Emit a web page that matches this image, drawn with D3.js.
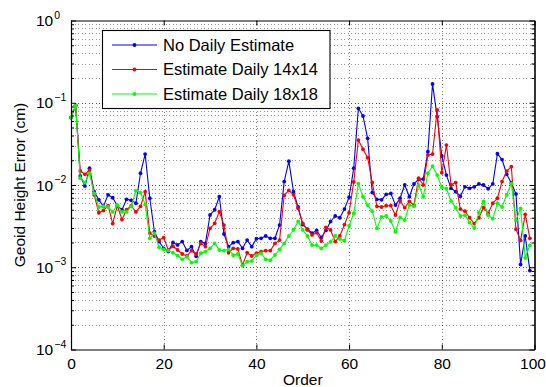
<!DOCTYPE html>
<html>
<head>
<meta charset="utf-8">
<script src="https://cdn.jsdelivr.net/npm/d3@7"></script>
<style>
  html, body { margin: 0; padding: 0; background: #fff; }
  svg { display: block; }
  text { font-family: "Liberation Sans", Arial, Helvetica, sans-serif; fill: #000; }
</style>
</head>
<body>
<svg id="chart" width="546" height="387"></svg>
<script>
// Geoid height error per spherical-harmonic order, three processing strategies
const seriesNames = ["No Daily Estimate", "Estimate Daily 14x14", "Estimate Daily 18x18"];
const seriesColors = ["#0000ff", "#ff0000", "#00ff00"];

const orders = d3.range(0, 100);

const noDaily = [
  0.066, 0.093, 0.0129, 0.0097, 0.016, 0.0083, 0.0066, 0.0055, 0.0076, 0.0070,
  0.0056, 0.0050, 0.0067, 0.0065, 0.0060, 0.0139, 0.0238, 0.0069, 0.0027, 0.00205,
  0.0017, 0.00155, 0.0020, 0.00187, 0.00205, 0.0016, 0.00178, 0.00136, 0.00205, 0.00195,
  0.00432, 0.0050, 0.0072, 0.00254, 0.00178, 0.00199, 0.00205, 0.0017, 0.00214, 0.00178,
  0.00222, 0.00225, 0.0024, 0.00225, 0.00225, 0.00326, 0.0110, 0.0195, 0.0083, 0.0054,
  0.0033, 0.0029, 0.0026, 0.0028, 0.0023, 0.0028, 0.0036, 0.0042, 0.0040, 0.0051,
  0.0071, 0.016, 0.0856, 0.069, 0.0369, 0.0081, 0.0067, 0.0066, 0.0077, 0.0079,
  0.0057, 0.0069, 0.0100, 0.0072, 0.0103, 0.0118, 0.0118, 0.0254, 0.169, 0.0677,
  0.0225, 0.0132, 0.0091, 0.0083, 0.0073, 0.0095, 0.0091, 0.0095, 0.0103, 0.0100,
  0.0090, 0.0103, 0.0240, 0.0204, 0.0135, 0.0106, 0.0078, 0.00108, 0.0024, 0.00091
];

const daily14 = [
  0.066, 0.093, 0.0148, 0.0135, 0.0152, 0.0076, 0.0046, 0.0049, 0.0056, 0.0034,
  0.0056, 0.0038, 0.0050, 0.0056, 0.0047, 0.0055, 0.0083, 0.0026, 0.0024, 0.00214,
  0.00229, 0.00162, 0.0018, 0.00162, 0.00145, 0.00137, 0.00159, 0.00145, 0.00195, 0.00178,
  0.00297, 0.00342, 0.00474, 0.00326, 0.0015, 0.0017, 0.00167, 0.00106, 0.0015, 0.00137,
  0.00148, 0.00155, 0.00159, 0.00159, 0.00195, 0.00214, 0.0075, 0.0086, 0.0076, 0.0052,
  0.00342, 0.00284, 0.00247, 0.00263, 0.00208, 0.00306, 0.00284, 0.00205, 0.0024, 0.0033,
  0.0046, 0.0109, 0.0352, 0.0272, 0.0215, 0.0107, 0.0055, 0.0054, 0.0056, 0.0056,
  0.00432, 0.0064, 0.0053, 0.0063, 0.0057, 0.0121, 0.0100, 0.0232, 0.0238, 0.0816,
  0.0141, 0.0306, 0.0100, 0.0107, 0.0051, 0.0048, 0.0040, 0.0034, 0.0040, 0.0053,
  0.0045, 0.0060, 0.0069, 0.0110, 0.0147, 0.0167, 0.0029, 0.00212, 0.0044, 0.00225
];

const daily18 = [
  0.066, 0.092, 0.0121, 0.0107, 0.0139, 0.0079, 0.0054, 0.0055, 0.0054, 0.0047,
  0.0057, 0.0047, 0.0047, 0.0055, 0.0085, 0.0081, 0.0058, 0.00225, 0.0026, 0.00175,
  0.00165, 0.00159, 0.0015, 0.00138, 0.00125, 0.00134, 0.00114, 0.00117, 0.00148, 0.00155,
  0.0017, 0.00195, 0.00162, 0.00159, 0.00165, 0.0014, 0.00145, 0.00104, 0.00117, 0.00119,
  0.0014, 0.00148, 0.00125, 0.00122, 0.00141, 0.00165, 0.00195, 0.0024, 0.00284, 0.0036,
  0.00284, 0.0024, 0.00186, 0.00186, 0.0017, 0.00186, 0.00204, 0.0024, 0.0022, 0.0021,
  0.0032, 0.0045, 0.0104, 0.0072, 0.0057, 0.0048, 0.00297, 0.0041, 0.0042, 0.00365,
  0.0027, 0.00404, 0.00375, 0.0057, 0.0055, 0.0100, 0.0072, 0.0139, 0.017, 0.0132,
  0.0094, 0.0090, 0.0064, 0.0053, 0.0042, 0.0043, 0.0035, 0.0030, 0.0046, 0.0063,
  0.0043, 0.0039, 0.0060, 0.0054, 0.0076, 0.0104, 0.0037, 0.0052, 0.0013, 0.00185
];

const xTicks = [0, 20, 40, 60, 80, 100];
const yDecades = [1e-4, 1e-3, 1e-2, 1e-1, 1];
const yExponents = ["\u22124", "\u22123", "\u22122", "\u22121", "0"];
const xLabel = "Order";
const yLabel = "Geoid Height Error (cm)";

const series = [noDaily, daily14, daily18];

// ---- layout ----
const svg = d3.select("#chart");
const plot = { left: 71, right: 534.5, top: 20.5, bottom: 349.5 };

const x = d3.scaleLinear().domain([0, 100]).range([plot.left, plot.right]);
const y = d3.scaleLog().domain([1e-4, 1]).range([plot.bottom, plot.top]);

// minor log positions 2..9 inside every decade
const yMinor = [];
yDecades.slice(0, -1).forEach(d => { for (let k = 2; k <= 9; k++) yMinor.push(d * k); });

// ---- dotted grid ----
const grid = svg.append("g").attr("class", "grid")
  .attr("stroke", "#000").attr("stroke-width", 1).attr("stroke-dasharray", "1,2.5")
  .attr("shape-rendering", "crispEdges");

grid.selectAll("line.minor").data(yMinor).join("line")
  .attr("class", "minor")
  .attr("x1", plot.left).attr("x2", plot.right)
  .attr("y1", d => Math.round(y(d)) + 0.5).attr("y2", d => Math.round(y(d)) + 0.5)
  .attr("stroke-opacity", 0.4);

grid.selectAll("line.major").data(yDecades.slice(1, -1)).join("line")
  .attr("class", "major")
  .attr("x1", plot.left).attr("x2", plot.right)
  .attr("y1", d => Math.round(y(d)) + 0.5).attr("y2", d => Math.round(y(d)) + 0.5)
  .attr("stroke-opacity", 0.7);

grid.selectAll("line.vx").data(xTicks.slice(1, -1)).join("line")
  .attr("class", "vx")
  .attr("y1", plot.top).attr("y2", plot.bottom)
  .attr("x1", d => Math.round(x(d)) + 0.5).attr("x2", d => Math.round(x(d)) + 0.5)
  .attr("stroke-opacity", 0.5);

// ---- data lines and markers ----
const line = d3.line().x((d, i) => x(orders[i])).y(d => y(d));

series.forEach((vals, si) => {
  const g = svg.append("g").attr("class", "series");
  g.append("path")
    .datum(vals)
    .attr("fill", "none")
    .attr("stroke", seriesColors[si])
    .attr("stroke-width", 1.1)
    .attr("stroke-linejoin", "round")
    .attr("d", line);
  g.selectAll("circle").data(vals).join("circle")
    .attr("cx", (d, i) => x(orders[i]))
    .attr("cy", d => y(d))
    .attr("r", 1.9)
    .attr("fill", seriesColors[si]);
});

// ---- axes (inward ticks, boxed) ----
const fontSize = 15.5;

const bottomAxis = d3.axisBottom(x).tickValues(xTicks).tickSizeInner(-5).tickSizeOuter(0).tickPadding(8);
const gB = svg.append("g").attr("transform", `translate(0,${plot.bottom})`).call(bottomAxis);
gB.selectAll("text").attr("font-size", fontSize).attr("font-family", null);
// keep the last label inside the page edge
gB.selectAll("text").filter(d => d === 100).attr("x", -2);

const topAxis = d3.axisTop(x).tickValues(xTicks).tickSizeInner(-5).tickSizeOuter(0).tickFormat("");
svg.append("g").attr("transform", `translate(0,${plot.top})`).call(topAxis);

const leftAxis = d3.axisLeft(y).tickValues(yDecades).tickSizeInner(-5).tickSizeOuter(0).tickFormat("");
const gL = svg.append("g").attr("transform", `translate(${plot.left},0)`).call(leftAxis);
const leftMinor = d3.axisLeft(y).tickValues(yMinor).tickSizeInner(-3).tickSizeOuter(0).tickFormat("");
svg.append("g").attr("transform", `translate(${plot.left},0)`).call(leftMinor);

const rightAxis = d3.axisRight(y).tickValues(yDecades).tickSizeInner(-5).tickSizeOuter(0).tickFormat("");
svg.append("g").attr("transform", `translate(${plot.right},0)`).call(rightAxis);
const rightMinor = d3.axisRight(y).tickValues(yMinor).tickSizeInner(-3).tickSizeOuter(0).tickFormat("");
svg.append("g").attr("transform", `translate(${plot.right},0)`).call(rightMinor);

svg.selectAll(".domain").attr("stroke", "#000").attr("stroke-width", 1.1);
svg.selectAll(".tick line").attr("stroke", "#000");

// power-of-ten labels on the y axis
gL.selectAll(".tick").each(function (d, i) {
  const t = d3.select(this).append("text")
    .attr("x", -35).attr("y", 0).attr("dy", "0.33em")
    .attr("text-anchor", "start")
    .attr("font-size", fontSize);
  t.append("tspan").text("10");
  t.append("tspan").attr("dy", -7.6).attr("dx", 1).attr("font-size", 10.5).text(yExponents[i]);
});

// ---- axis titles ----
svg.append("text")
  .attr("x", (plot.left + plot.right) / 2).attr("y", 384.5)
  .attr("text-anchor", "middle").attr("font-size", fontSize)
  .text(xLabel);

svg.append("text")
  .attr("transform", `translate(25,${(plot.top + plot.bottom) / 2}) rotate(-90)`)
  .attr("text-anchor", "middle").attr("font-size", fontSize)
  .text(yLabel);

// ---- legend ----
const legend = svg.append("g").attr("class", "legend");
legend.append("rect")
  .attr("x", 102.5).attr("y", 30.5).attr("width", 227.5).attr("height", 78)
  .attr("fill", "#fff").attr("stroke", "#000").attr("stroke-width", 1.1);

const rowY = [45, 69.5, 94];
seriesNames.forEach((name, i) => {
  const row = legend.append("g").attr("transform", `translate(0,${rowY[i]})`);
  row.append("line").attr("x1", 112).attr("x2", 157).attr("y1", 0).attr("y2", 0)
    .attr("stroke", seriesColors[i]).attr("stroke-width", 1.1);
  row.append("circle").attr("cx", 134.5).attr("cy", 0).attr("r", 1.9).attr("fill", seriesColors[i]);
  row.append("text").attr("x", 163).attr("y", 0).attr("dy", "0.36em")
    .attr("font-size", 16.5).text(name);
});
</script>
</body>
</html>
